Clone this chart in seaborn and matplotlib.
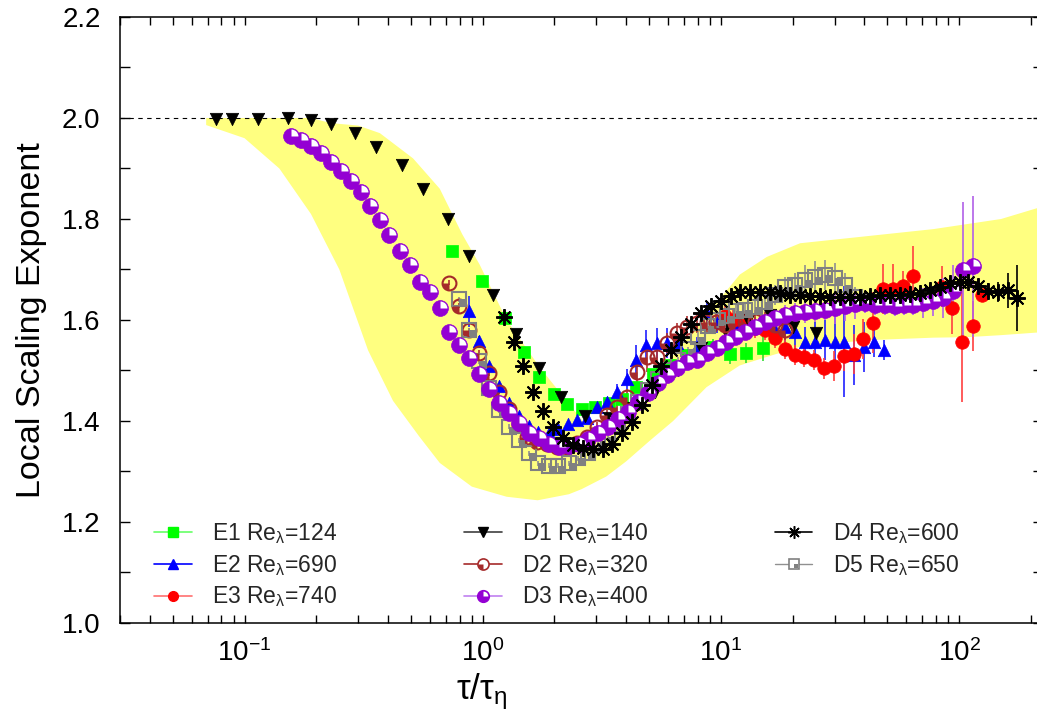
import numpy as np
import pandas as pd
import seaborn as sns
import matplotlib
matplotlib.use('Agg')
import matplotlib.pyplot as plt
from matplotlib.path import Path
from matplotlib.lines import Line2D
from matplotlib.legend_handler import HandlerTuple
from matplotlib.ticker import LogLocator, MultipleLocator, NullFormatter, FormatStrFormatter

# %% data
band_hi_x = [0.069, 0.10, 0.14, 0.19, 0.23, 0.30, 0.37, 0.51, 0.66, 0.82, 0.97, 1.26, 1.73,
             2.25, 2.63, 3.0, 3.5, 4.2, 5.0, 6.3, 8.7, 12.0, 15.6, 21.5, 41.0, 78.0, 150.0, 225.0]
band_hi_y = [2.0, 2.0, 2.0, 2.0, 1.99, 1.985, 1.97, 1.92, 1.86, 1.77, 1.71, 1.60, 1.507,
             1.44, 1.40, 1.385, 1.385, 1.41, 1.46, 1.53, 1.61, 1.69, 1.725, 1.752, 1.766, 1.78, 1.80, 1.825]
band_lo_x = [0.069, 0.10, 0.14, 0.19, 0.25, 0.33, 0.42, 0.54, 0.66, 0.9, 1.26, 1.7, 2.3,
             2.6, 3.3, 4.0, 5.0, 6.3, 8.7, 12.0, 15.6, 21.5, 41.0, 78.0, 108.0, 150.0, 225.0]
band_lo_y = [1.986, 1.96, 1.90, 1.81, 1.70, 1.54, 1.44, 1.37, 1.317, 1.27, 1.25, 1.243, 1.255,
             1.265, 1.29, 1.32, 1.36, 1.40, 1.467, 1.51, 1.527, 1.547, 1.56, 1.565, 1.566, 1.57, 1.576]

e1_x = [0.743, 0.993, 1.24, 1.49, 1.73, 2.00, 2.25, 2.61, 2.96, 3.38, 3.85, 4.42, 5.20, 6.11,
        7.18, 9.29, 10.9, 12.8, 15.0]
e1_y = [1.737, 1.678, 1.603, 1.537, 1.487, 1.454, 1.434, 1.423, 1.427, 1.436, 1.443, 1.468,
        1.493, 1.511, 1.531, 1.547, 1.533, 1.535, 1.544]
e1_err = [0.005, 0.005, 0.005, 0.005, 0.005, 0.005, 0.005, 0.005, 0.005, 0.005, 0.005, 0.01,
          0.01, 0.01, 0.01, 0.015, 0.02, 0.02, 0.025]

e2_x = [0.876, 0.964, 1.06, 1.17, 1.29, 1.42, 1.56, 1.71, 1.89, 2.08, 2.28, 2.49, 2.74, 3.02,
        3.33, 3.67, 4.02, 4.42, 4.87, 5.37, 5.91, 6.51, 7.90, 8.71, 9.59, 11.6, 16.9, 18.6,
        20.5, 22.5, 24.8, 27.4, 30.1, 33.0, 36.2, 39.9, 43.9, 48.4]
e2_y = [1.617, 1.559, 1.508, 1.469, 1.436, 1.409, 1.390, 1.379, 1.377, 1.384, 1.394, 1.402,
        1.405, 1.427, 1.438, 1.458, 1.483, 1.520, 1.551, 1.554, 1.554, 1.554, 1.547, 1.613,
        1.594, 1.587, 1.580, 1.587, 1.577, 1.557, 1.557, 1.560, 1.557, 1.557, 1.531, 1.547,
        1.557, 1.541]
e2_err = [0.03, 0.01, 0.005, 0.005, 0.005, 0.005, 0.005, 0.005, 0.005, 0.005, 0.005, 0.005,
          0.005, 0.01, 0.01, 0.015, 0.02, 0.03, 0.03, 0.03, 0.03, 0.02, 0.02, 0.02, 0.02, 0.02,
          0.03, 0.03, 0.04, 0.03, 0.04, 0.04, 0.05, 0.11, 0.06, 0.05, 0.03, 0.02]

e3_x = [10.4, 11.2, 12.6, 13.9, 15.3, 16.9, 18.6, 20.5, 22.4, 24.7, 27.1, 29.9, 32.9, 36.2,
        39.6, 43.6, 48.1, 53.0, 58.3, 64.3, 85.1, 93.7, 103, 114, 125]
e3_y = [1.607, 1.600, 1.590, 1.585, 1.580, 1.564, 1.542, 1.531, 1.527, 1.520, 1.504, 1.509,
        1.529, 1.533, 1.562, 1.595, 1.661, 1.661, 1.667, 1.687, 1.666, 1.623, 1.557, 1.588, 1.650]
e3_err = [0.02, 0.02, 0.02, 0.02, 0.02, 0.02, 0.02, 0.02, 0.02, 0.02, 0.02, 0.03, 0.03, 0.04,
          0.04, 0.06, 0.05, 0.05, 0.03, 0.06, 0.04, 0.05, 0.12, 0.05, 0.01]

d1_x = [0.076, 0.089, 0.114, 0.152, 0.191, 0.230, 0.292, 0.357, 0.458, 0.561, 0.715, 0.876,
        1.10, 1.38, 1.72, 2.14, 2.70, 3.4, 4.2, 5.28, 6.6, 8.24, 10.4, 13.0, 16.0, 20.1, 25.1]
d1_y = [1.998, 1.998, 1.999, 2.000, 1.996, 1.988, 1.971, 1.943, 1.907, 1.859, 1.800, 1.727,
        1.649, 1.573, 1.504, 1.448, 1.409, 1.405, 1.425, 1.458, 1.50, 1.545, 1.58, 1.60, 1.61,
        1.586, 1.574]

d2_x = [0.721, 0.795, 0.876, 0.964, 1.06, 1.17, 1.29, 1.42, 1.54, 1.69, 1.86, 2.05, 2.26,
        2.49, 2.74, 3.01, 3.32, 3.66, 4.03, 4.43, 4.88, 5.37, 5.91, 6.51, 7.17, 7.90, 8.71,
        9.54, 10.4, 11.5, 12.6, 13.9, 15.3, 16.9, 18.6]
d2_y = [1.674, 1.628, 1.580, 1.535, 1.495, 1.458, 1.424, 1.392, 1.369, 1.359, 1.355, 1.349,
        1.349, 1.356, 1.368, 1.388, 1.412, 1.428, 1.448, 1.498, 1.527, 1.527, 1.554, 1.574,
        1.587, 1.594, 1.597, 1.597, 1.590, 1.594, 1.597, 1.599, 1.596, 1.590, 1.580]
d2_err = [0.005, 0.005, 0.005, 0.005, 0.005, 0.005, 0.005, 0.005, 0.005, 0.005, 0.005, 0.005,
          0.005, 0.005, 0.005, 0.01, 0.01, 0.01, 0.015, 0.03, 0.03, 0.03, 0.02, 0.02, 0.02,
          0.02, 0.02, 0.02, 0.02, 0.02, 0.02, 0.02, 0.02, 0.02, 0.02]

d3_x = [0.157, 0.173, 0.191, 0.210, 0.230, 0.254, 0.279, 0.307, 0.337, 0.369, 0.406, 0.448,
        0.493, 0.543, 0.598, 0.659, 0.721, 0.795, 0.876, 0.964, 1.06, 1.17, 1.29, 1.42, 1.57,
        1.73, 1.90, 2.09, 2.31, 2.54, 2.76, 3.04, 3.35, 3.69, 4.06, 4.48, 4.93, 5.43, 5.91,
        6.51, 7.17, 7.90, 8.71, 9.59, 10.5, 11.5, 12.6, 13.9, 15.3, 16.9, 18.6, 20.5, 22.5,
        24.8, 27.4, 30.1, 33.2, 36.6, 40.3, 44.4, 48.9, 53.8, 58.7, 64.3, 70.4, 77.5, 85.3,
        94.1, 104, 114]
d3_y = [1.965, 1.956, 1.945, 1.931, 1.913, 1.895, 1.876, 1.853, 1.826, 1.798, 1.768, 1.737,
        1.709, 1.676, 1.655, 1.623, 1.577, 1.551, 1.524, 1.493, 1.463, 1.436, 1.415, 1.396,
        1.377, 1.366, 1.355, 1.349, 1.351, 1.355, 1.364, 1.376, 1.389, 1.403, 1.417, 1.438,
        1.455, 1.475, 1.491, 1.504, 1.517, 1.521, 1.534, 1.544, 1.557, 1.567, 1.577, 1.587,
        1.597, 1.603, 1.610, 1.613, 1.615, 1.617, 1.620, 1.623, 1.628, 1.631, 1.633, 1.630,
        1.630, 1.628, 1.630, 1.630, 1.633, 1.638, 1.644, 1.658, 1.699, 1.706]
d3_err = [0.003, 0.003, 0.003, 0.003, 0.005, 0.008, 0.01, 0.01, 0.005, 0.005, 0.005, 0.005,
          0.005, 0.005, 0.005, 0.005, 0.005, 0.005, 0.005, 0.005, 0.005, 0.005, 0.005, 0.005,
          0.005, 0.005, 0.005, 0.005, 0.005, 0.005, 0.005, 0.005, 0.005, 0.005, 0.005, 0.005,
          0.005, 0.005, 0.005, 0.005, 0.005, 0.005, 0.005, 0.01, 0.01, 0.01, 0.01, 0.01, 0.01,
          0.015, 0.02, 0.02, 0.02, 0.02, 0.02, 0.03, 0.03, 0.03, 0.02, 0.02, 0.02, 0.02, 0.02,
          0.02, 0.03, 0.03, 0.04, 0.05, 0.135, 0.14]

d4_x = [1.23, 1.35, 1.48, 1.63, 1.79, 1.97, 2.17, 2.39, 2.64, 2.91, 3.20, 3.49, 3.84, 4.23,
        4.66, 5.13, 5.61, 6.18, 6.81, 7.50, 8.26, 9.10, 10.0, 11.0, 12.0, 13.2, 14.6, 16.1,
        17.7, 19.5, 21.5, 23.7, 26.1, 28.7, 31.7, 34.9, 38.4, 42.3, 46.6, 51.4, 56.6, 62.3,
        68.7, 75.6, 83.3, 91.8, 101, 109, 120, 132, 145, 160, 175]
d4_y = [1.605, 1.557, 1.508, 1.458, 1.419, 1.388, 1.366, 1.353, 1.347, 1.344, 1.344, 1.355,
        1.376, 1.399, 1.432, 1.471, 1.508, 1.541, 1.567, 1.592, 1.613, 1.628, 1.638, 1.648,
        1.655, 1.655, 1.655, 1.655, 1.653, 1.650, 1.650, 1.648, 1.648, 1.646, 1.645, 1.646,
        1.646, 1.648, 1.649, 1.650, 1.650, 1.652, 1.653, 1.659, 1.666, 1.673, 1.676, 1.676,
        1.667, 1.658, 1.656, 1.659, 1.643]
d4_err = [0.005, 0.005, 0.005, 0.005, 0.005, 0.005, 0.005, 0.005, 0.005, 0.005, 0.005, 0.005,
          0.005, 0.005, 0.005, 0.005, 0.005, 0.005, 0.005, 0.005, 0.005, 0.005, 0.005, 0.005,
          0.008, 0.008, 0.008, 0.008, 0.008, 0.008, 0.008, 0.008, 0.008, 0.008, 0.008, 0.008,
          0.008, 0.008, 0.008, 0.008, 0.008, 0.01, 0.01, 0.01, 0.01, 0.01, 0.01, 0.01, 0.015,
          0.015, 0.02, 0.035, 0.065]

d5_x = [0.795, 0.876, 0.964, 1.06, 1.17, 1.29, 1.42, 1.56, 1.71, 1.89, 2.08, 2.30, 2.51,
        2.76, 3.04, 3.35, 3.69, 4.06, 4.48, 4.93, 5.43, 5.98, 6.58, 7.25, 7.98, 8.79, 9.68,
        10.6, 11.6, 12.6, 13.9, 15.3, 16.9, 18.6, 20.5, 22.5, 24.8, 27.4, 30.1, 33.2, 36.6, 40.3]
d5_y = [1.641, 1.580, 1.518, 1.465, 1.421, 1.389, 1.362, 1.336, 1.316, 1.311, 1.311, 1.316,
        1.326, 1.336, 1.353, 1.369, 1.392, 1.414, 1.438, 1.461, 1.483, 1.501, 1.521, 1.542,
        1.567, 1.588, 1.600, 1.607, 1.617, 1.620, 1.626, 1.636, 1.650, 1.666, 1.669, 1.679,
        1.686, 1.689, 1.683, 1.669, 1.646, 1.636]
d5_err = [0.005, 0.005, 0.005, 0.005, 0.005, 0.005, 0.005, 0.005, 0.005, 0.005, 0.005, 0.005,
          0.005, 0.005, 0.005, 0.005, 0.005, 0.005, 0.005, 0.005, 0.005, 0.005, 0.005, 0.005,
          0.01, 0.01, 0.01, 0.01, 0.015, 0.015, 0.015, 0.02, 0.02, 0.02, 0.025, 0.03, 0.03,
          0.03, 0.03, 0.025, 0.02, 0.02]

labels = ['E1 Re$_{\\lambda}$=124', 'E2 Re$_{\\lambda}$=690', 'E3 Re$_{\\lambda}$=740',
          'D1 Re$_{\\lambda}$=140', 'D2 Re$_{\\lambda}$=320', 'D3 Re$_{\\lambda}$=400',
          'D4 Re$_{\\lambda}$=600', 'D5 Re$_{\\lambda}$=650']

# %% style
sns.set_theme(style='ticks')
plt.rcParams['font.family'] = ['Liberation Sans', 'DejaVu Sans']
plt.rcParams['mathtext.fontset'] = 'custom'
plt.rcParams['mathtext.rm'] = 'Liberation Sans'
plt.rcParams['mathtext.it'] = 'Liberation Sans'
plt.rcParams['mathtext.bf'] = 'Liberation Sans:bold'

GREEN, BLUE, RED = '#00ff00', '#0000ff', '#ff0000'
BROWN, PURPLE, GRAY = '#a52a2a', '#9400d3', '#808080'

quad_bl = Path.wedge(180, 270)
quad_tr = Path.wedge(0, 90)
quad_sq = Path([(0, 0), (1, 0), (1, -1), (0, -1), (0, 0)],
               [Path.MOVETO, Path.LINETO, Path.LINETO, Path.LINETO, Path.CLOSEPOLY])

fig = plt.figure(figsize=(10.37, 7.13), dpi=100)
ax = fig.add_axes([120 / 1037, 1 - 623 / 713, 923 / 1037, 606 / 713])
ax.set_xscale('log')

# yellow band
ax.fill(np.concatenate([band_hi_x, band_lo_x[::-1]]),
        np.concatenate([band_hi_y, band_lo_y[::-1]]),
        color='#ffff80', lw=0, zorder=1)
ax.axhline(2.0, color='black', lw=0.8, dashes=(4, 4), zorder=2)

# error bars
for x, y, e, c in [(e1_x, e1_y, e1_err, '#33dd33'), (e2_x, e2_y, e2_err, '#2020ff'),
                   (e3_x, e3_y, e3_err, '#ff4040'), (d2_x, d2_y, d2_err, '#b03030'),
                   (d5_x, d5_y, d5_err, '#909090'), (d3_x, d3_y, d3_err, '#b060e8'),
                   (d4_x, d4_y, d4_err, 'black')]:
    ax.errorbar(x, y, yerr=e, fmt='none', ecolor=c, elinewidth=1.2, capsize=0, zorder=3)

# markers
sns.scatterplot(x=e1_x, y=e1_y, marker='s', s=85, color=GREEN, edgecolor=GREEN, linewidth=0.5,
                ax=ax, zorder=4)
sns.scatterplot(x=e2_x, y=e2_y, marker='^', s=80, color=BLUE, edgecolor=BLUE, linewidth=0.5,
                ax=ax, zorder=4)
sns.scatterplot(x=e3_x, y=e3_y, marker='o', s=95, color=RED, edgecolor=RED, linewidth=0.5,
                ax=ax, zorder=4)
sns.scatterplot(x=d1_x, y=d1_y, marker='v', s=80, color='black', edgecolor='black',
                linewidth=0.5, ax=ax, zorder=4)
ax.plot(d2_x, d2_y, ls='none', marker='o', ms=10, mfc='none', mec=BROWN, mew=1.5, zorder=5)
ax.plot(d2_x, d2_y, ls='none', marker=quad_bl, ms=9.5, mfc=BROWN, mec=BROWN, mew=0, zorder=5.1)
ax.plot(d5_x, d5_y, ls='none', marker='s', ms=10, mfc='none', mec=GRAY, mew=1.5, zorder=5)
ax.plot(d5_x, d5_y, ls='none', marker=quad_sq, ms=9, mfc=GRAY, mec=GRAY, mew=0, zorder=5.1)
sns.scatterplot(x=d3_x, y=d3_y, marker='o', s=130, color=PURPLE, edgecolor=PURPLE,
                linewidth=0.5, ax=ax, zorder=6)
ax.plot(d3_x, d3_y, ls='none', marker=quad_tr, ms=10, mfc='white', mec='white', mew=0,
        zorder=6.1)
ax.plot(d4_x, d4_y, ls='none', marker=(8, 2, 0), ms=12, mec='black', mew=1.4, zorder=7)

# axes
ax.set_xlim(0.03, 225)
ax.set_ylim(1.0, 2.2)
ax.yaxis.set_major_locator(MultipleLocator(0.2))
ax.yaxis.set_minor_locator(MultipleLocator(0.1))
ax.yaxis.set_major_formatter(FormatStrFormatter('%.1f'))
ax.xaxis.set_major_locator(LogLocator(base=10, numticks=10))
ax.xaxis.set_minor_locator(LogLocator(base=10, subs=np.arange(2, 10), numticks=10))
ax.xaxis.set_minor_formatter(NullFormatter())
ax.tick_params(which='both', direction='in', top=True, right=True, width=1, color='black',
               labelsize=20, labelcolor='black')
ax.tick_params(axis='y', which='both', length=7.5, pad=14)
ax.tick_params(axis='x', which='both', length=6, pad=12)
for sp in ax.spines.values():
    sp.set_color('black')
    sp.set_linewidth(1.1)

ax.set_ylabel('Local Scaling Exponent', fontsize=24.5, color='black')
ax.yaxis.set_label_coords(-0.079, 0.5)
ax.set_xlabel('$\\tau/\\tau_{\\eta}$', fontsize=25, color='black')
ax.xaxis.set_label_coords(0.392, -0.08)

# legend
ms_l = 7
handles = [
    Line2D([], [], color='#66ff66', lw=1.2, marker='s', ms=ms_l, mfc=GREEN, mec=GREEN),
    Line2D([], [], color=BLUE, lw=1.2, marker='^', ms=ms_l, mfc=BLUE, mec=BLUE),
    Line2D([], [], color='#ff7070', lw=1.2, marker='o', ms=ms_l, mfc=RED, mec=RED),
    Line2D([], [], color='#404040', lw=1.2, marker='v', ms=ms_l, mfc='black', mec='black'),
    (Line2D([], [], color=BROWN, lw=1.2, marker='o', ms=ms_l + 1, mfc='white', mec=BROWN, mew=1.2),
     Line2D([], [], ls='none', marker=quad_bl, ms=ms_l + 0.5, mfc=BROWN, mec=BROWN, mew=0)),
    (Line2D([], [], color='#c080f0', lw=1.2, marker='o', ms=ms_l + 1.5, mfc=PURPLE, mec=PURPLE),
     Line2D([], [], ls='none', marker=quad_tr, ms=ms_l, mfc='white', mec='white', mew=0)),
    Line2D([], [], color='black', lw=1.2, marker=(8, 2, 0), ms=ms_l + 2, mec='black', mew=1.1),
    (Line2D([], [], color='#909090', lw=1.0, marker='s', ms=ms_l, mfc='white', mec=GRAY, mew=1.2),
     Line2D([], [], ls='none', marker=quad_sq, ms=ms_l * 0.9, mfc=GRAY, mec=GRAY, mew=0)),
]
ax.legend(handles, labels, ncol=3, frameon=False, fontsize=16.5, loc='upper left',
          bbox_to_anchor=(154 / 1037, 1 - 521 / 713), bbox_transform=fig.transFigure,
          borderaxespad=0, borderpad=0, handlelength=1.65, handletextpad=0.9,
          columnspacing=5.5, labelspacing=0.3,
          handler_map={tuple: HandlerTuple(ndivide=1, pad=0)})

fig.savefig('out.png', dpi=100)
